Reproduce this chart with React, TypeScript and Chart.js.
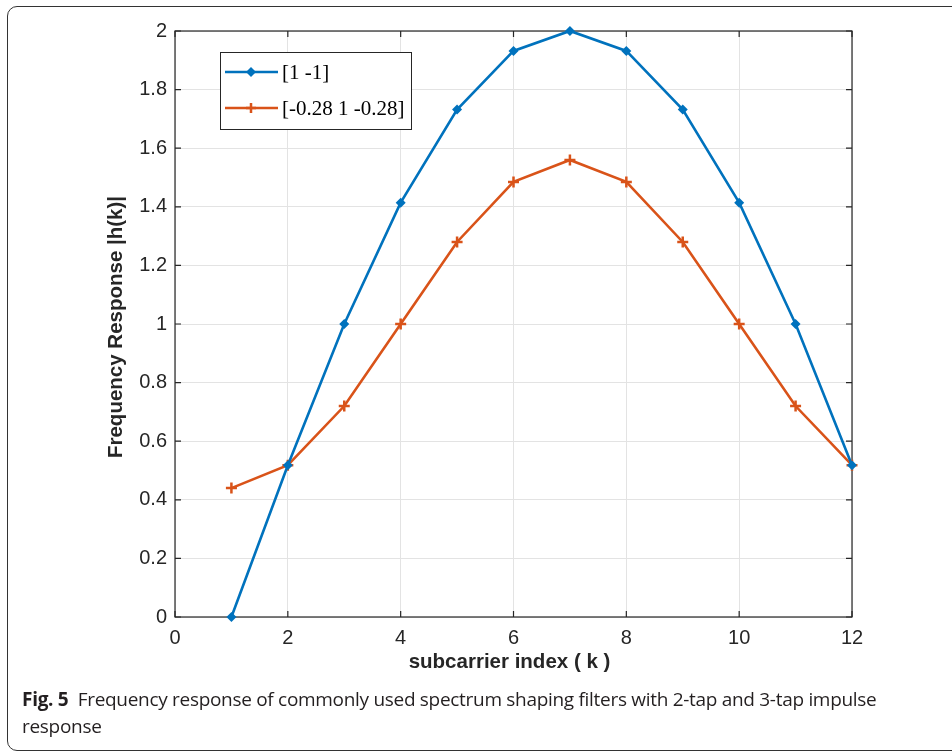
import React, { useEffect, useRef } from "react";
import { Chart, registerables } from "chart.js";

Chart.register(...registerables);

const subcarrierIndex = [1, 2, 3, 4, 5, 6, 7, 8, 9, 10, 11, 12];
const twoTapResponse = [0, 0.518, 1.0, 1.414, 1.732, 1.932, 2.0, 1.932, 1.732, 1.414, 1.0, 0.518];
const threeTapResponse = [0.44, 0.518, 0.72, 1.0, 1.28, 1.485, 1.56, 1.485, 1.28, 1.0, 0.72, 0.518];
const seriesLabels = ["[1 -1]", "[-0.28 1 -0.28]"];
const seriesColors = ["#0072BD", "#D95319"];
const xTickValues = [0, 2, 4, 6, 8, 10, 12];
const yTickValues = [0, 0.2, 0.4, 0.6, 0.8, 1, 1.2, 1.4, 1.6, 1.8, 2];
const xAxisTitle = "subcarrier index ( k )";
const yAxisTitle = "Frequency Response |h(k)|";
const captionLead = "Fig. 5";
const captionText =
  "Frequency response of commonly used spectrum shaping filters with 2-tap and 3-tap impulse response";

const AXIS_COLOR = "#262626";
const TICK_FONT = "'Liberation Sans', Arial, sans-serif";

function drawDiamond(ctx: CanvasRenderingContext2D, x: number, y: number, r: number, color: string) {
  ctx.beginPath();
  ctx.moveTo(x, y - r);
  ctx.lineTo(x + r, y);
  ctx.lineTo(x, y + r);
  ctx.lineTo(x - r, y);
  ctx.closePath();
  ctx.fillStyle = color;
  ctx.fill();
}

function drawPlus(ctx: CanvasRenderingContext2D, x: number, y: number, r: number, color: string) {
  ctx.beginPath();
  ctx.moveTo(x - r, y);
  ctx.lineTo(x + r, y);
  ctx.moveTo(x, y - r);
  ctx.lineTo(x, y + r);
  ctx.strokeStyle = color;
  ctx.lineWidth = 2.5;
  ctx.stroke();
}

const matlabPlugin = {
  id: "matlabFrame",
  beforeDatasetsDraw(chart: any) {
    const { ctx, chartArea } = chart;
    const { left, right, top, bottom } = chartArea;
    const xs = chart.scales.x;
    const ys = chart.scales.y;
    ctx.save();
    ctx.strokeStyle = AXIS_COLOR;
    ctx.lineWidth = 1.2;
    ctx.strokeRect(left, top, right - left, bottom - top);
    ctx.beginPath();
    const tl = 6;
    xTickValues.forEach((v) => {
      const px = xs.getPixelForValue(v);
      ctx.moveTo(px, bottom);
      ctx.lineTo(px, bottom - tl);
      ctx.moveTo(px, top);
      ctx.lineTo(px, top + tl);
    });
    yTickValues.forEach((v) => {
      const py = ys.getPixelForValue(v);
      ctx.moveTo(left, py);
      ctx.lineTo(left + tl, py);
      ctx.moveTo(right, py);
      ctx.lineTo(right - tl, py);
    });
    ctx.stroke();
    ctx.restore();
  },
  afterDraw(chart: any) {
    const { ctx, chartArea } = chart;
    const { left, right, top, bottom } = chartArea;
    ctx.save();
    // axis titles
    ctx.fillStyle = AXIS_COLOR;
    ctx.font = `bold 20.5px ${TICK_FONT}`;
    ctx.textAlign = "center";
    ctx.textBaseline = "middle";
    ctx.fillText(xAxisTitle, (left + right) / 2 - 4, bottom + 45);
    ctx.translate(left - 59, (top + bottom) / 2 + 3);
    ctx.rotate(-Math.PI / 2);
    ctx.fillText(yAxisTitle, 0, 0);
    ctx.restore();

    // legend
    ctx.save();
    const bx = left + 45;
    const by = top + 21;
    const bw = 191;
    const bh = 77;
    ctx.fillStyle = "#ffffff";
    ctx.fillRect(bx, by, bw, bh);
    ctx.strokeStyle = AXIS_COLOR;
    ctx.lineWidth = 1;
    ctx.strokeRect(bx + 0.5, by + 0.5, bw, bh);
    const rows = [by + 20, by + 56];
    rows.forEach((ry, i) => {
      ctx.beginPath();
      ctx.moveTo(bx + 5, ry);
      ctx.lineTo(bx + 58, ry);
      ctx.strokeStyle = seriesColors[i];
      ctx.lineWidth = 2.6;
      ctx.stroke();
      if (i === 0) drawDiamond(ctx, bx + 31, ry, 5, seriesColors[i]);
      else drawPlus(ctx, bx + 31, ry, 5, seriesColors[i]);
      ctx.fillStyle = "#000000";
      ctx.font = "21px 'Liberation Serif', 'Times New Roman', serif";
      ctx.textAlign = "left";
      ctx.textBaseline = "middle";
      ctx.fillText(seriesLabels[i], bx + 62, ry + 1);
    });
    ctx.restore();
  },
};

export default function App() {
  const canvasRef = useRef<HTMLCanvasElement | null>(null);

  useEffect(() => {
    const canvas = canvasRef.current;
    if (!canvas) return;
    const toPoints = (vals: number[]) => subcarrierIndex.map((k, i) => ({ x: k, y: vals[i] }));
    const chart = new Chart(canvas, {
      type: "line",
      data: {
        datasets: [
          {
            label: seriesLabels[0],
            data: toPoints(twoTapResponse),
            borderColor: seriesColors[0],
            backgroundColor: seriesColors[0],
            borderWidth: 2.6,
            pointStyle: "rectRot",
            pointRadius: 5,
            pointBorderWidth: 0,
            pointBackgroundColor: seriesColors[0],
            tension: 0,
            clip: false as any,
          },
          {
            label: seriesLabels[1],
            data: toPoints(threeTapResponse),
            borderColor: seriesColors[1],
            backgroundColor: seriesColors[1],
            borderWidth: 2.6,
            pointStyle: "cross",
            pointRadius: 5.5,
            pointBorderWidth: 2.5,
            pointBorderColor: seriesColors[1],
            tension: 0,
            clip: false as any,
          },
        ],
      },
      options: {
        responsive: false,
        animation: false,
        layout: { padding: { left: 0, top: 31, right: 100, bottom: 0 } },
        plugins: {
          legend: { display: false },
          tooltip: { enabled: false },
          title: { display: false },
        },
        scales: {
          x: {
            type: "linear",
            min: 0,
            max: 12,
            afterBuildTicks: (scale: any) => {
              scale.ticks = xTickValues.map((v) => ({ value: v }));
            },
            afterFit: (scale: any) => {
              scale.height = 135;
            },
            ticks: {
              color: AXIS_COLOR,
              font: { family: TICK_FONT, size: 20 },
              padding: 9,
              maxRotation: 0,
            },
            grid: { color: "#e3e3e3", lineWidth: 1, drawTicks: false },
            border: { display: false },
          },
          y: {
            type: "linear",
            min: 0,
            max: 2,
            afterBuildTicks: (scale: any) => {
              scale.ticks = yTickValues.map((v) => ({ value: v }));
            },
            afterFit: (scale: any) => {
              scale.width = 175;
            },
            ticks: {
              color: AXIS_COLOR,
              font: { family: TICK_FONT, size: 20 },
              padding: 8,
              callback: (v: any) => String(Math.round(Number(v) * 10) / 10),
            },
            grid: { color: "#e3e3e3", lineWidth: 1, drawTicks: false },
            border: { display: false },
          },
        },
      },
      plugins: [matlabPlugin],
    });
    return () => chart.destroy();
  }, []);

  return (
    <div
      style={{
        position: "absolute",
        left: 0,
        top: 0,
        width: 952,
        height: 752,
        overflow: "hidden",
        background: "#ffffff",
      }}
    >
      <div
        style={{
          position: "absolute",
          left: 7,
          top: 6,
          width: 980,
          height: 745,
          border: "1.5px solid #333333",
          borderRadius: 10,
          boxSizing: "border-box",
        }}
      />
      <canvas
        ref={canvasRef}
        width={952}
        height={752}
        style={{ position: "absolute", left: 0, top: 0, width: 952, height: 752 }}
      />
      <div
        style={{
          position: "absolute",
          left: 22,
          top: 686,
          width: 900,
          fontFamily: "'Open Sans', sans-serif",
          fontSize: 19,
          lineHeight: "27px",
          letterSpacing: "-0.3px",
          color: "#231f20",
        }}
      >
        <b>{captionLead}</b>&nbsp; {captionText}
      </div>
    </div>
  );
}
